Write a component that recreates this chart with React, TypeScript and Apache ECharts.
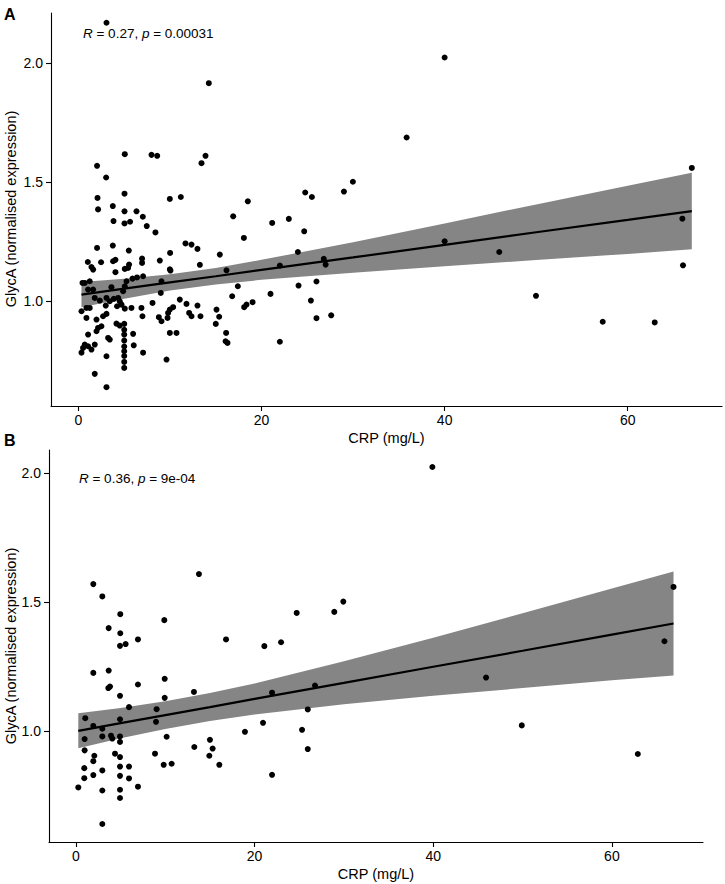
import React, { useEffect, useRef } from "react";
import * as echarts from "echarts";

// ---- data ----
const crpTicks = [0, 20, 40, 60];
const glycTicks = [1.0, 1.5, 2.0];
const panelLabels = ["A", "B"];
const xTitle = "CRP (mg/L)";
const yTitle = "GlycA (normalised expression)";
const statA = { r: "0.27", p: "0.00031" };
const statB = { r: "0.36", p: "9e-04" };

// Panel A: [CRP, GlycA]
const pointsA: number[][] = [
  [3.06, 2.17], [14.24, 1.916], [40.0, 2.024], [35.85, 1.688], [2.03, 1.569], [3.02, 1.52], [5.06, 1.618],
  [7.98, 1.615], [8.6, 1.611], [13.44, 1.58], [13.88, 1.611], [67.0, 1.56], [29.98, 1.502], [29.0, 1.461],
  [24.77, 1.457], [25.5, 1.438], [2.08, 1.434], [5.03, 1.452], [9.98, 1.43], [11.18, 1.438], [18.5, 1.42],
  [2.14, 1.386], [3.75, 1.4], [5.03, 1.378], [6.34, 1.378], [7.03, 1.355], [3.83, 1.337], [5.03, 1.327],
  [5.64, 1.334], [7.46, 1.316], [16.9, 1.357], [21.16, 1.329], [22.98, 1.346], [65.97, 1.347],
  [8.41, 1.289], [11.69, 1.243], [12.35, 1.238], [13.0, 1.22], [2.03, 1.224], [3.75, 1.234], [5.5, 1.213],
  [10.01, 1.203], [18.07, 1.266], [24.66, 1.294], [23.97, 1.207], [40.0, 1.252], [45.97, 1.207], [15.44, 1.196],
  [1.02, 1.165], [2.47, 1.164], [3.78, 1.168], [4.04, 1.174], [5.53, 1.154], [6.95, 1.179], [6.95, 1.161],
  [8.89, 1.171], [9.98, 1.134], [1.42, 1.144], [1.6, 1.133], [4.04, 1.122], [5.06, 1.136], [5.42, 1.14],
  [7.06, 1.105], [10.05, 1.129], [13.26, 1.153], [16.17, 1.13], [22.0, 1.15], [26.8, 1.178], [27.0, 1.154],
  [66.04, 1.151],
  [5.25, 1.084], [5.9, 1.095], [6.4, 1.1], [9.07, 1.084], [8.99, 1.035], [17.41, 1.063], [16.79, 1.021],
  [0.44, 1.077], [0.69, 1.077], [1.23, 1.084], [1.05, 1.049], [1.6, 1.049], [1.78, 1.014], [2.33, 1.003],
  [3.06, 1.014], [3.42, 1.0], [3.6, 1.059], [3.86, 1.01], [4.33, 1.014], [4.51, 1.0], [5.06, 1.063],
  [4.88, 1.042], [11.07, 1.007], [26.0, 1.083], [24.04, 1.066], [20.98, 1.031], [25.39, 1.003], [49.98, 1.023],
  [19.02, 0.996],
  [0.33, 0.958], [0.87, 0.972], [1.23, 0.972], [0.87, 0.93], [1.97, 0.923], [2.69, 0.937], [3.06, 0.947],
  [2.98, 0.982], [4.7, 0.986], [4.22, 0.979], [5.06, 0.969], [5.79, 0.972], [6.88, 0.972], [6.99, 0.937],
  [8.09, 0.993], [8.78, 0.933], [9.07, 0.916], [9.73, 0.93], [9.98, 0.965], [10.34, 0.975], [11.8, 0.989],
  [12.09, 0.951], [12.35, 0.937], [13.0, 0.982], [13.33, 0.937], [15.08, 0.965], [15.37, 0.935], [15.0, 0.905],
  [18.1, 0.975], [18.36, 0.986], [26.0, 0.929], [27.61, 0.941], [57.27, 0.914], [62.95, 0.911], [2.51, 0.895],
  [2.14, 0.888], [4.15, 0.906], [4.51, 0.898], [9.79, 0.951],
  [1.97, 0.874], [3.24, 0.846], [3.42, 0.839], [1.05, 0.86], [0.69, 0.818], [0.5, 0.804], [0.33, 0.784],
  [1.05, 0.811], [1.42, 0.797], [1.78, 0.818], [3.06, 0.769], [1.78, 0.695], [3.06, 0.639],
  [5.0, 0.905], [5.0, 0.88], [5.0, 0.86], [5.0, 0.835], [5.0, 0.81], [5.0, 0.79], [5.0, 0.77], [5.0, 0.745],
  [5.0, 0.72],
  [5.97, 0.863], [6.04, 0.815], [7.06, 0.784], [9.62, 0.755], [9.98, 0.867], [10.71, 0.867], [16.13, 0.867],
  [16.07, 0.832], [16.28, 0.825], [22.0, 0.83],
];

// Panel B: [CRP, GlycA]
const pointsB: number[][] = [
  [1.94, 1.57], [2.95, 1.522], [13.77, 1.609], [4.96, 1.453], [9.89, 1.43], [3.66, 1.399], [4.96, 1.379],
  [4.93, 1.33], [5.56, 1.337], [6.94, 1.355], [16.8, 1.355], [1.94, 1.225], [3.66, 1.234], [3.81, 1.172],
  [3.62, 1.166], [4.93, 1.136], [6.94, 1.18], [9.93, 1.202], [9.93, 1.128], [13.21, 1.151], [5.94, 1.092],
  [9.03, 1.084], [8.96, 1.035], [1.04, 1.049], [1.94, 1.019], [2.95, 1.008], [4.93, 1.045], [0.97, 0.968],
  [2.95, 0.978], [3.92, 0.981], [4.07, 0.97], [4.93, 0.978], [4.93, 0.957], [10.15, 0.977], [18.92, 0.996],
  [0.97, 0.924], [2.05, 0.903], [1.94, 0.882], [4.37, 0.911], [4.93, 0.898], [8.85, 0.911], [13.25, 0.937],
  [15.0, 0.965], [15.3, 0.931], [14.93, 0.903], [16.05, 0.868], [9.82, 0.868], [10.71, 0.872], [0.93, 0.855],
  [0.93, 0.816], [1.94, 0.828], [2.95, 0.846], [4.93, 0.861], [5.94, 0.861], [4.93, 0.825], [5.94, 0.815],
  [0.26, 0.78], [2.95, 0.768], [4.93, 0.771], [4.93, 0.739], [6.94, 0.783], [2.95, 0.638],
  [39.9, 2.025], [66.9, 1.559], [65.88, 1.348], [29.93, 1.502], [28.92, 1.462], [24.71, 1.458], [22.96, 1.344],
  [21.09, 1.329], [21.95, 1.148], [26.76, 1.176], [45.91, 1.207], [25.95, 1.083], [20.94, 1.031], [25.31, 1.004],
  [49.91, 1.021], [25.95, 0.929], [62.9, 0.91], [21.95, 0.829],
];

// Linear fit and its 95% band at a few CRP values
const fitXA = [0.33, 5, 10, 15, 20, 30, 40, 50, 60, 67];
const fitLineA = [1.028, 1.053, 1.079, 1.105, 1.132, 1.184, 1.237, 1.29, 1.342, 1.379];
const fitUpperA = [1.081, 1.095, 1.113, 1.14, 1.174, 1.248, 1.327, 1.407, 1.485, 1.54];
const fitLowerA = [0.975, 1.011, 1.045, 1.07, 1.09, 1.12, 1.147, 1.173, 1.199, 1.218];

const fitXB = [0.26, 5, 10, 15, 20, 30, 40, 50, 60, 66.9];
const fitLineB = [1.0, 1.03, 1.061, 1.092, 1.124, 1.186, 1.249, 1.311, 1.374, 1.417];
const fitUpperB = [1.068, 1.089, 1.115, 1.147, 1.184, 1.27, 1.362, 1.457, 1.553, 1.619];
const fitLowerB = [0.932, 0.971, 1.007, 1.038, 1.063, 1.103, 1.136, 1.166, 1.196, 1.215];

const FONT = "'Liberation Sans', Arial, Helvetica, sans-serif";

const zip = (xs: number[], ys: number[]) => xs.map((x, i) => [x, ys[i]]);

export default function App() {
  const ref = useRef<HTMLDivElement>(null);

  useEffect(() => {
    if (!ref.current) return;
    const chart = echarts.init(ref.current, undefined, { renderer: "svg" });

    const xAxisCommon = (gridIndex: number, min: number, max: number) => ({
      type: "value",
      gridIndex,
      min,
      max,
      name: xTitle,
      nameLocation: "middle",
      nameGap: 24,
      nameTextStyle: { color: "#000", fontSize: 14.5, fontFamily: FONT },
      axisLine: { show: true, onZero: false, lineStyle: { color: "#000", width: 1.1 } },
      axisTick: { show: true, length: 5, customValues: crpTicks, lineStyle: { color: "#000", width: 1.1 } },
      axisLabel: {
        show: true, customValues: crpTicks, margin: 7, color: "#000", fontSize: 14, fontFamily: FONT,
        formatter: (v: number) => String(v),
      },
      splitLine: { show: false },
    });
    const yAxisCommon = (gridIndex: number, min: number, max: number) => ({
      type: "value",
      gridIndex,
      min,
      max,
      axisLine: { show: true, onZero: false, lineStyle: { color: "#000", width: 1.1 } },
      axisTick: { show: true, length: 5, customValues: glycTicks, lineStyle: { color: "#000", width: 1.1 } },
      axisLabel: {
        show: true, customValues: glycTicks, margin: 8, color: "#000", fontSize: 14, fontFamily: FONT,
        formatter: (v: number) => v.toFixed(1),
      },
      splitLine: { show: false },
    });

    const bandSeries = (idx: number, xs: number[], up: number[], lo: number[]) => ({
      type: "custom",
      xAxisIndex: idx,
      yAxisIndex: idx,
      z: 1,
      silent: true,
      data: [[xs[0], lo[0]]],
      renderItem: (_params: any, api: any) => {
        const pts = [
          ...zip(xs, up).map((p) => api.coord(p)),
          ...zip(xs, lo).reverse().map((p) => api.coord(p)),
        ];
        return { type: "polygon", shape: { points: pts }, style: { fill: "#858585" } };
      },
    });
    const lineSeries = (idx: number, xs: number[], ys: number[]) => ({
      type: "line",
      xAxisIndex: idx,
      yAxisIndex: idx,
      z: 2,
      silent: true,
      symbol: "none",
      smooth: false,
      data: zip(xs, ys),
      lineStyle: { color: "#000", width: 2.2 },
    });
    const scatterSeries = (idx: number, pts: number[][]) => ({
      type: "scatter",
      xAxisIndex: idx,
      yAxisIndex: idx,
      z: 3,
      symbolSize: 6,
      data: pts,
      itemStyle: { color: "#000", opacity: 1 },
    });

    const statText = (left: number, top: number, st: { r: string; p: string }) => ({
      type: "text",
      left,
      top,
      style: {
        text: `{i|R} = ${st.r}, {i|p} = ${st.p}`,
        fontSize: 13.5,
        fontFamily: FONT,
        fill: "#000",
        rich: { i: { fontStyle: "italic", fontSize: 13.5, fontFamily: FONT, fill: "#000" } },
      },
    });
    const yTitleText = (cx: number, cy: number) => ({
      type: "text",
      x: cx,
      y: cy,
      rotation: Math.PI / 2,
      style: {
        text: yTitle,
        fontSize: 14.5,
        fontFamily: FONT,
        fill: "#000",
        align: "center",
        verticalAlign: "middle",
      },
    });

    chart.setOption({
      animation: false,
      backgroundColor: "#fff",
      grid: [
        { left: 51, top: 13, width: 671, height: 393, containLabel: false, outerBoundsMode: "none" },
        { left: 49, top: 450, width: 654, height: 392, containLabel: false, outerBoundsMode: "none" },
      ],
      xAxis: [xAxisCommon(0, -3.0, 70.3), xAxisCommon(1, -3.02, 70.2)],
      yAxis: [yAxisCommon(0, 0.56, 2.211), yAxisCommon(1, 0.568, 2.091)],
      series: [
        bandSeries(0, fitXA, fitUpperA, fitLowerA), lineSeries(0, fitXA, fitLineA), scatterSeries(0, pointsA),
        bandSeries(1, fitXB, fitUpperB, fitLowerB), lineSeries(1, fitXB, fitLineB), scatterSeries(1, pointsB),
      ],
      graphic: [
        { type: "text", left: 4, top: 6, style: { text: panelLabels[0], fontSize: 16, fontWeight: "bold", fontFamily: FONT, fill: "#000" } },
        { type: "text", left: 4, top: 432, style: { text: panelLabels[1], fontSize: 16, fontWeight: "bold", fontFamily: FONT, fill: "#000" } },
        statText(83, 26, statA),
        statText(79, 471, statB),
        yTitleText(11, 209),
        yTitleText(11, 646),
      ],
    });
    return () => chart.dispose();
  }, []);

  return (
    <div
      ref={ref}
      style={{ position: "fixed", left: 0, top: 0, width: 725, height: 884, background: "#fff" }}
    />
  );
}
